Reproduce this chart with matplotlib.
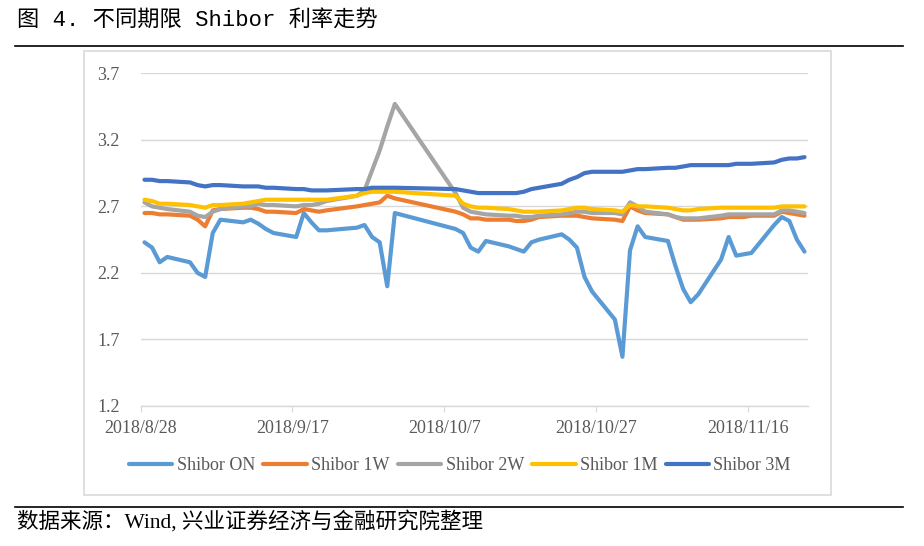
import matplotlib.pyplot as plt
from matplotlib.patches import Rectangle
from matplotlib.lines import Line2D
import pandas as pd

# trading days (incl. make-up working days 9/29, 9/30)
dates = ["2018-08-28", "2018-08-29", "2018-08-30", "2018-08-31",
         "2018-09-03", "2018-09-04", "2018-09-05", "2018-09-06", "2018-09-07",
         "2018-09-10", "2018-09-11", "2018-09-12", "2018-09-13", "2018-09-14",
         "2018-09-17", "2018-09-18", "2018-09-19", "2018-09-20", "2018-09-21",
         "2018-09-25", "2018-09-26", "2018-09-27", "2018-09-28", "2018-09-29", "2018-09-30",
         "2018-10-08", "2018-10-09", "2018-10-10", "2018-10-11", "2018-10-12",
         "2018-10-15", "2018-10-16", "2018-10-17", "2018-10-18", "2018-10-19",
         "2018-10-22", "2018-10-23", "2018-10-24", "2018-10-25", "2018-10-26",
         "2018-10-29", "2018-10-30", "2018-10-31", "2018-11-01", "2018-11-02",
         "2018-11-05", "2018-11-06", "2018-11-07", "2018-11-08", "2018-11-09",
         "2018-11-12", "2018-11-13", "2018-11-14", "2018-11-15", "2018-11-16",
         "2018-11-19", "2018-11-20", "2018-11-21", "2018-11-22", "2018-11-23"]

shibor_on = [2.43, 2.39, 2.28, 2.32, 2.28, 2.20, 2.17, 2.50, 2.60,
             2.58, 2.60, 2.57, 2.53, 2.50, 2.47, 2.65, 2.58, 2.52, 2.52,
             2.54, 2.56, 2.47, 2.43, 2.10, 2.65,
             2.53, 2.50, 2.39, 2.36, 2.44, 2.40, 2.38, 2.36, 2.43, 2.45,
             2.49, 2.45, 2.39, 2.17, 2.06, 1.85, 1.57, 2.37, 2.55, 2.47,
             2.44, 2.25, 2.08, 1.98, 2.04, 2.30, 2.47, 2.33, 2.34, 2.35,
             2.56, 2.62, 2.59, 2.45, 2.36]
shibor_1w = [2.65, 2.65, 2.64, 2.64, 2.63, 2.60, 2.55, 2.67, 2.68,
             2.69, 2.69, 2.68, 2.66, 2.66, 2.65, 2.68, 2.67, 2.66, 2.67,
             2.70, 2.71, 2.72, 2.73, 2.78, 2.76,
             2.66, 2.64, 2.61, 2.61, 2.60, 2.60, 2.59, 2.59, 2.60, 2.62,
             2.63, 2.63, 2.63, 2.62, 2.61, 2.60, 2.59, 2.70, 2.67, 2.65,
             2.64, 2.62, 2.60, 2.60, 2.60, 2.61, 2.62, 2.62, 2.62, 2.63,
             2.63, 2.66, 2.65, 2.64, 2.63]
shibor_2w = [2.73, 2.70, 2.69, 2.68, 2.66, 2.63, 2.62, 2.66, 2.68,
             2.70, 2.70, 2.72, 2.71, 2.71, 2.70, 2.71, 2.71, 2.72, 2.74,
             2.78, 2.82, 2.97, 3.12, 3.30, 3.47,
             2.80, 2.69, 2.66, 2.65, 2.64, 2.63, 2.63, 2.62, 2.62, 2.63,
             2.64, 2.65, 2.66, 2.66, 2.65, 2.65, 2.64, 2.73, 2.70, 2.66,
             2.64, 2.62, 2.61, 2.61, 2.61, 2.63, 2.64, 2.64, 2.64, 2.64,
             2.64, 2.67, 2.67, 2.66, 2.65]
shibor_1m = [2.75, 2.74, 2.72, 2.72, 2.71, 2.70, 2.69, 2.71, 2.71,
             2.72, 2.73, 2.74, 2.75, 2.75, 2.75, 2.75, 2.75, 2.75, 2.75,
             2.78, 2.80, 2.81, 2.81, 2.81, 2.81,
             2.78, 2.72, 2.70, 2.69, 2.69, 2.68, 2.67, 2.66, 2.66, 2.66,
             2.67, 2.68, 2.69, 2.69, 2.68, 2.67, 2.66, 2.71, 2.70, 2.70,
             2.69, 2.68, 2.67, 2.67, 2.68, 2.69, 2.69, 2.69, 2.69, 2.69,
             2.69, 2.70, 2.70, 2.70, 2.70]
shibor_3m = [2.90, 2.90, 2.89, 2.89, 2.88, 2.86, 2.85, 2.86, 2.86,
             2.85, 2.85, 2.85, 2.84, 2.84, 2.83, 2.83, 2.82, 2.82, 2.82,
             2.83, 2.83, 2.84, 2.84, 2.84, 2.84,
             2.83, 2.82, 2.81, 2.80, 2.80, 2.80, 2.80, 2.81, 2.83, 2.84,
             2.87, 2.90, 2.92, 2.95, 2.96, 2.96, 2.96, 2.97, 2.98, 2.98,
             2.99, 2.99, 3.00, 3.01, 3.01, 3.01, 3.01, 3.02, 3.02, 3.02,
             3.03, 3.05, 3.06, 3.06, 3.07]

names = ["Shibor ON", "Shibor 1W", "Shibor 2W", "Shibor 1M", "Shibor 3M"]
colors = ["#5B9BD5", "#ED7D31", "#A5A5A5", "#FFC000", "#4472C4"]
tick_dates = ["2018-08-28", "2018-09-17", "2018-10-07", "2018-10-27", "2018-11-16"]
y_ticks = [1.2, 1.7, 2.2, 2.7, 3.2, 3.7]

W, H = 924, 546
fig = plt.figure(figsize=(W / 100, H / 100), dpi=100)

# outer frame, rules and texts
fig.patches.append(Rectangle((84 / W, 1 - 495 / H), (831 - 84) / W, (495 - 51) / H,
                             transform=fig.transFigure, fill=False,
                             edgecolor="#D9D9D9", lw=1.2))
fig.lines.append(Line2D([15 / W, 903 / W], [1 - 46 / H] * 2, transform=fig.transFigure,
                        color="black", lw=1.2))
fig.lines.append(Line2D([15 / W, 903 / W], [1 - 507 / H] * 2, transform=fig.transFigure,
                        color="black", lw=1.2))
fig.text(17 / W, 1 - 21 / H, "图 4. 不同期限 Shibor 利率走势",
         family=["Liberation Mono", "Noto Sans CJK SC"],
         fontsize=16, va="center", ha="left", color="black")
fig.text(17 / W, 1 - 522 / H, "数据来源：Wind, 兴业证券经济与金融研究院整理",
         family=["Liberation Serif", "Noto Sans CJK SC"],
         fontsize=15.5, va="center", ha="left", color="black")

ax = fig.add_axes([140.7 / W, 1 - 406 / H, (808.3 - 140.7) / W, (406 - 73.3) / H])

x = pd.to_datetime(dates) + pd.Timedelta(hours=12)
series = [shibor_on, shibor_1w, shibor_2w, shibor_1m, shibor_3m]
for vals, name, c in zip(series, names, colors):
    ax.plot(x, vals, color=c, lw=3, label=name, solid_joinstyle="round",
            solid_capstyle="round")

ax.set_ylim(1.2, 3.7)
ax.set_xlim(pd.Timestamp("2018-08-28"), pd.Timestamp("2018-11-24"))
ax.set_yticks(y_ticks)
ax.set_yticklabels([f"{v:.1f}" for v in y_ticks])
td = pd.to_datetime(tick_dates)
ax.set_xticks(td)
ax.set_xticklabels([f"{d.year}/{d.month}/{d.day}" for d in td])
ax.grid(axis="y", color="#D9D9D9", lw=1)
ax.set_axisbelow(True)
for s in ["top", "right", "left"]:
    ax.spines[s].set_visible(False)
ax.spines["bottom"].set_color("#D9D9D9")
ax.spines["bottom"].set_linewidth(1)
ax.tick_params(axis="y", length=0, pad=15, labelsize=13, labelcolor="#595959")
ax.tick_params(axis="x", length=4, color="#D9D9D9", pad=6, labelsize=13,
               labelcolor="#595959")
for lab in ax.get_xticklabels() + ax.get_yticklabels():
    lab.set_family("Liberation Serif")

leg = fig.legend(loc="center", bbox_to_anchor=(460 / W, 1 - 466 / H), ncol=5,
                 frameon=False, handlelength=2.4, handletextpad=0.25,
                 columnspacing=0.45, prop={"family": "Liberation Serif", "size": 13})
for t in leg.get_texts():
    t.set_color("#595959")

fig.savefig("out.png", dpi=100)
